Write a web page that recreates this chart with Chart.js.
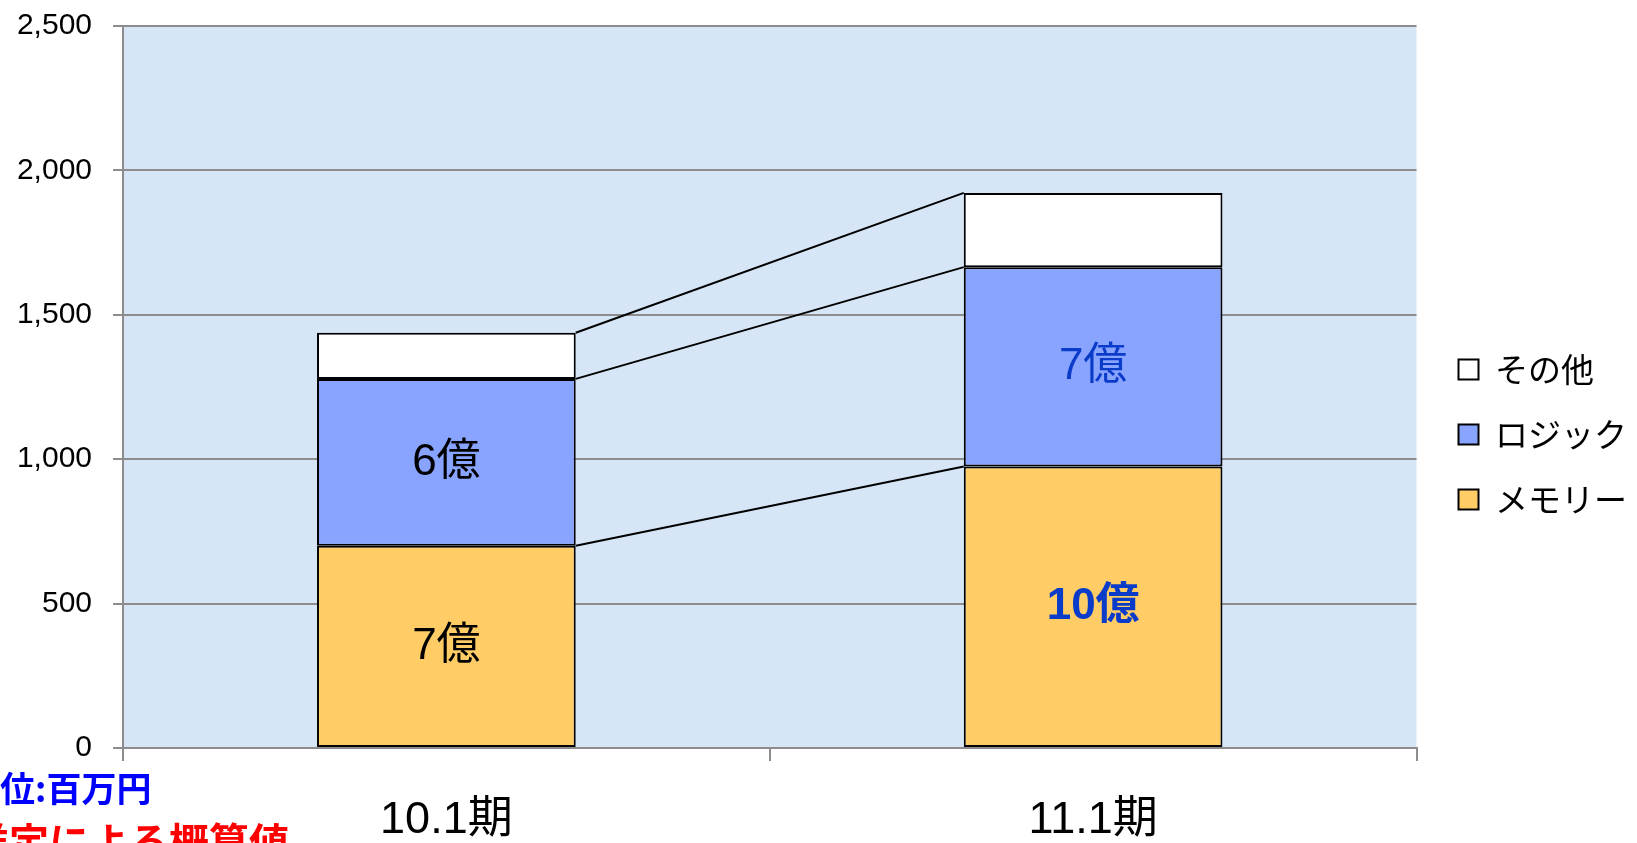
<!DOCTYPE html>
<html lang="ja">
<head>
<meta charset="utf-8">
<title>売上推移</title>
<script src="https://cdn.jsdelivr.net/npm/chart.js@4/dist/chart.umd.min.js"></script>
<style>
  html, body { margin: 0; padding: 0; background: #ffffff; }
  #wrap { width: 1637px; height: 843px; position: relative; }
</style>
</head>
<body>
<div id="wrap"><canvas id="myChart"></canvas></div>
<script>
    // データ (単位:百万円)
    const periods = ['10.1期', '11.1期'];
    const memoria = [700, 975];
    const logica = [578, 690];
    const otros = [160, 257];

    const seriesNames = ['メモリー', 'ロジック', 'その他'];
    const seriesColors = ['#FFCC66', '#88A4FF', '#FFFFFF'];

    // 棒の中のラベル
    const memoriaLabels = ['7億', '10億'];
    const logicaLabels = ['6億', '7億'];
    const otrosLabels = ['', ''];
    const labelColors = ['#000000', '#0B3CC9'];
    const labelWeights = [['normal', 'bold'], ['normal', 'normal'], ['normal', 'normal']];

    const yTicks = [0, 500, 1000, 1500, 2000, 2500];
    const notes = ['単位:百万円', '推定による概算値'];

    const fuenteNum = "'Liberation Sans', 'Noto Sans CJK JP', sans-serif";
    const fuenteJp = "'Noto Sans CJK JP', sans-serif";

    // 背景 (プロットエリア)
    const fondoPlugin = {
      id: 'fondo',
      beforeDraw(chart) {
        const { ctx, chartArea } = chart;
        ctx.save();
        ctx.fillStyle = '#D6E6F6';
        ctx.fillRect(chartArea.left, chartArea.top, chartArea.right - chartArea.left, chartArea.bottom - chartArea.top);
        ctx.restore();
      }
    };

    // 棒と棒をつなぐ線
    const lineasPlugin = {
      id: 'lineas',
      afterDatasetsDraw(chart) {
        const { ctx } = chart;
        ctx.save();
        ctx.strokeStyle = '#000000';
        ctx.lineWidth = 2;
        chart.data.datasets.forEach((ds, i) => {
          const meta = chart.getDatasetMeta(i);
          const a = meta.data[0];
          const b = meta.data[1];
          ctx.beginPath();
          ctx.moveTo(a.x + a.width / 2, a.y);
          ctx.lineTo(b.x - b.width / 2, b.y);
          ctx.stroke();
        });
        ctx.restore();
      }
    };

    // ラベルと注記
    const textosPlugin = {
      id: 'textos',
      afterDraw(chart) {
        const { ctx } = chart;
        const todos = [memoriaLabels, logicaLabels, otrosLabels];
        ctx.save();
        ctx.textAlign = 'center';
        ctx.textBaseline = 'middle';
        chart.data.datasets.forEach((ds, i) => {
          const meta = chart.getDatasetMeta(i);
          meta.data.forEach((el, j) => {
            const txt = todos[i][j];
            if (!txt) return;
            ctx.font = labelWeights[i][j] + ' 44px ' + fuenteNum;
            ctx.fillStyle = labelColors[j];
            ctx.fillText(txt, el.x, (el.y + el.base) / 2);
          });
        });
        ctx.textAlign = 'left';
        ctx.font = 'bold 35px ' + fuenteJp;
        ctx.fillStyle = '#0000FF';
        ctx.fillText(notes[0], -35, 789);
        ctx.font = 'bold 40px ' + fuenteJp;
        ctx.fillStyle = '#FF0000';
        ctx.fillText(notes[1], -31, 842);
        ctx.restore();
      }
    };

    const ctx = document.getElementById('myChart').getContext('2d');

    const myChart = new Chart(ctx, {
      type: 'bar',
      data: {
        labels: periods,
        datasets: [memoria, logica, otros].map((valores, i) => ({
          label: seriesNames[i],
          data: valores,
          backgroundColor: seriesColors[i],
          borderColor: '#000000',
          borderWidth: 2,
          borderSkipped: false,
          categoryPercentage: 1,
          barPercentage: 0.4
        }))
      },
      options: {
        responsive: true,
        maintainAspectRatio: false,
        animation: false,
        layout: { padding: { top: 26, right: 0, left: 0, bottom: 0 } },
        plugins: {
          tooltip: { enabled: false },
          legend: {
            position: 'right',
            reverse: true,
            labels: {
              boxWidth: 20,
              boxHeight: 20,
              padding: 32,
              color: '#000000',
              font: { family: fuenteJp, size: 33 }
            }
          }
        },
        scales: {
          x: {
            stacked: true,
            grid: {
              offset: true,
              drawOnChartArea: false,
              color: '#8C8C8C',
              lineWidth: 2,
              tickLength: 13
            },
            border: { color: '#8C8C8C', width: 2 },
            ticks: {
              color: '#000000',
              padding: 33,
              font: { family: fuenteNum, size: 45 }
            },
            afterFit(scale) { scale.height = 95; }
          },
          y: {
            stacked: true,
            min: 0,
            max: 2500,
            afterBuildTicks(scale) { scale.ticks = yTicks.map(v => ({ value: v })); },
            grid: {
              color: '#8C8C8C',
              lineWidth: 2,
              tickLength: 10
            },
            border: { color: '#8C8C8C', width: 2 },
            ticks: {
              color: '#000000',
              padding: 21,
              font: { family: fuenteNum, size: 30 },
              callback: (v) => v.toLocaleString('en-US')
            },
            afterFit(scale) {
              scale.width = 123;
              scale.paddingTop = 0;
              scale.paddingBottom = 0;
            }
          },
          // 凡例との間の余白
          yDerecha: {
            type: 'linear',
            position: 'right',
            display: true,
            min: 0,
            max: 2500,
            grid: { drawOnChartArea: false, drawTicks: false },
            border: { display: false },
            ticks: { display: false },
            afterFit(scale) { scale.width = 10; }
          }
        }
      },
      plugins: [fondoPlugin, lineasPlugin, textosPlugin]
    });
</script>
</body>
</html>
